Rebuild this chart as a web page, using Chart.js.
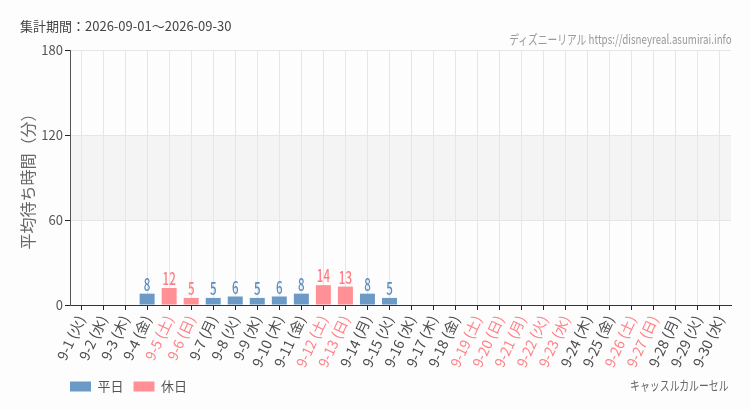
<!DOCTYPE html>
<html lang="ja">
<head>
<meta charset="utf-8">
<script src="https://cdn.jsdelivr.net/npm/chart.js@4"></script>
<style>
  html, body { margin: 0; padding: 0; background: #fcfdfc; }
  #wrap { position: relative; width: 750px; height: 410px; font-family: "Noto Sans CJK JP", sans-serif; }
  #wrap canvas { position: absolute; left: 0; top: 0; }
  .txt { position: absolute; white-space: nowrap; font-size: 13px; line-height: 16px; }
  #period { left: 20px; top: 18px; color: #444; }
  #credit { right: 18px; top: 31px; color: #999; transform: scaleX(0.75); transform-origin: right center; }
  #attraction { right: 21px; top: 377px; color: #666; transform: scaleX(0.76); transform-origin: right center; }
</style>
</head>
<body>
<div id="wrap">
  <canvas id="chart" width="750" height="410"></canvas>
  <div class="txt" id="period">集計期間：2026-09-01～2026-09-30</div>
  <div class="txt" id="credit">ディズニーリアル https://disneyreal.asumirai.info</div>
  <div class="txt" id="attraction">キャッスルカルーセル</div>
</div>
<script>
// 日付・曜日・休日フラグ・平均待ち時間（分）
const dates = ['9-1','9-2','9-3','9-4','9-5','9-6','9-7','9-8','9-9','9-10',
               '9-11','9-12','9-13','9-14','9-15','9-16','9-17','9-18','9-19','9-20',
               '9-21','9-22','9-23','9-24','9-25','9-26','9-27','9-28','9-29','9-30'];
const dayNames = ['火','水','木','金','土','日','月','火','水','木',
                  '金','土','日','月','火','水','木','金','土','日',
                  '月','火','水','木','金','土','日','月','火','水'];
const holidays = [0,0,0,0,1,1,0,0,0,0,
                  0,1,1,0,0,0,0,0,1,1,
                  1,1,1,0,0,1,1,0,0,0];
const waitTimes = [null,null,null,8,12,5,5,6,5,6,
                   8,14,13,8,5,null,null,null,null,null,
                   null,null,null,null,null,null,null,null,null,null];
const yTicks = [0, 60, 120, 180];

const labels = dates.map((d, i) => `${d} (${dayNames[i]})`);
const weekdayData = waitTimes.map((v, i) => holidays[i] ? null : v);
const holidayData = waitTimes.map((v, i) => holidays[i] ? v : null);

const FONT = '"Noto Sans CJK JP", sans-serif';
const BLUE = '#6b9ac7';
const RED = '#ff9196';

// 背景と 60〜120 分の帯
const bandPlugin = {
  id: 'band',
  beforeDraw(chart) {
    const { ctx, chartArea, scales } = chart;
    ctx.save();
    ctx.fillStyle = '#fcfdfc';
    ctx.fillRect(0, 0, chart.width, chart.height);
    const y1 = scales.y.getPixelForValue(120);
    const y2 = scales.y.getPixelForValue(60);
    ctx.fillStyle = '#f4f4f4';
    ctx.fillRect(chartArea.left, y1, chartArea.right - chartArea.left, y2 - y1);
    ctx.restore();
  }
};

// 棒の上の数値
const valueLabels = {
  id: 'valueLabels',
  afterDatasetsDraw(chart) {
    const ctx = chart.ctx;
    chart.data.datasets.forEach((ds, di) => {
      const meta = chart.getDatasetMeta(di);
      meta.data.forEach((bar, i) => {
        const v = ds.data[i];
        if (v == null) return;
        ctx.save();
        ctx.translate(bar.x, bar.y);
        ctx.scale(0.68, 1);
        ctx.font = '500 17px ' + FONT;
        ctx.fillStyle = ds.labelColor;
        ctx.textAlign = 'center';
        ctx.textBaseline = 'alphabetic';
        ctx.fillText(String(v), 0, -3);
        ctx.restore();
      });
    });
  }
};

// 凡例をプロット左端に揃える
const legendAlign = {
  id: 'legendAlign',
  afterLayout(chart) {
    chart.legend.left = chart.chartArea.left - 10;
  }
};

new Chart(document.getElementById('chart'), {
  type: 'bar',
  data: {
    labels: labels,
    datasets: [
      { label: '平日', data: weekdayData, backgroundColor: BLUE, labelColor: '#5b8cc2',
        barPercentage: 0.68, categoryPercentage: 1 },
      { label: '休日', data: holidayData, backgroundColor: RED, labelColor: '#ff7c82',
        barPercentage: 0.68, categoryPercentage: 1 }
    ]
  },
  options: {
    responsive: false,
    animation: false,
    layout: { padding: { top: 50, right: 19, bottom: 7, left: 0 } },
    plugins: {
      legend: {
        position: 'bottom',
        align: 'start',
        labels: { boxWidth: 21, boxHeight: 10, padding: 10, color: '#555', font: { family: FONT, size: 13 } }
      },
      tooltip: { enabled: false }
    },
    scales: {
      x: {
        stacked: true,
        afterFit: (s) => { s.height = 65; },
        grid: { offset: false, color: '#e6e6e6', tickColor: '#222', tickLength: 5 },
        border: { color: '#333' },
        ticks: {
          autoSkip: false, minRotation: 65, maxRotation: 65, padding: 3,
          font: { family: FONT, size: 14 },
          color: (c) => holidays[c.index] ? '#ff8087' : '#4a4a4a'
        }
      },
      y: {
        stacked: true,
        min: 0, max: 180,
        afterFit: (s) => { s.width = 70; },
        afterBuildTicks: (s) => { s.ticks = yTicks.map(v => ({ value: v })); },
        grid: { color: '#e6e6e6', tickColor: '#222', tickLength: 5 },
        border: { color: '#555' },
        ticks: { padding: 2, color: '#555', font: { family: FONT, size: 13 } },
        title: {
          display: true, text: '平均待ち時間（分）', color: '#666',
          font: { family: FONT, size: 16 }, padding: { top: 18, bottom: 0 }
        }
      }
    }
  },
  plugins: [bandPlugin, valueLabels, legendAlign]
});
</script>
</body>
</html>
